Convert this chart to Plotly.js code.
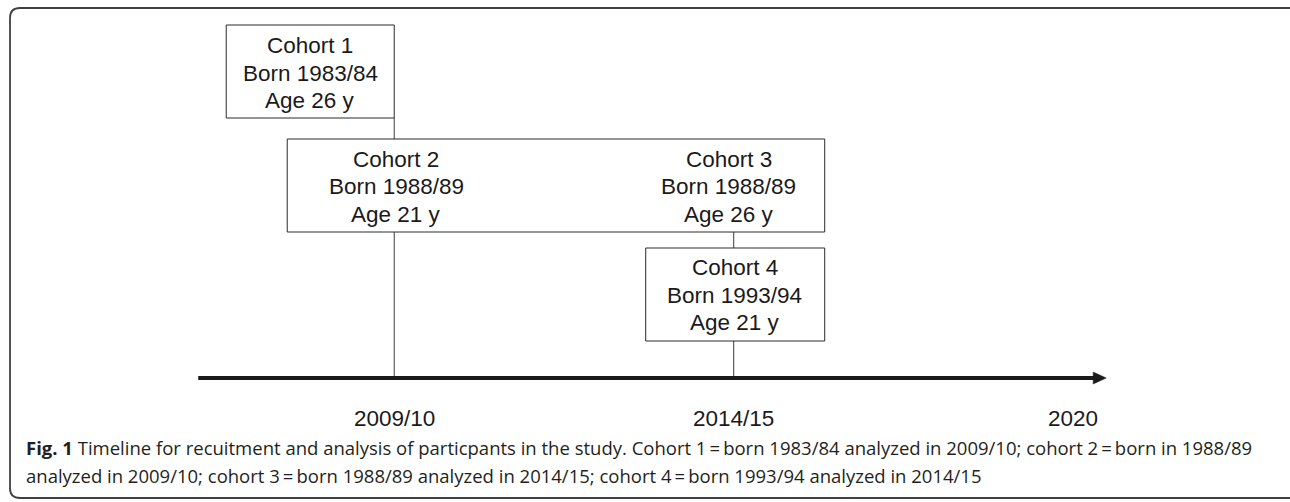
<!DOCTYPE html>
<html>
<head>
<meta charset="utf-8">
<script src="https://cdn.plot.ly/plotly-3.0.1.min.js"></script>
<style>
  html, body { margin: 0; padding: 0; background: #ffffff; }
  #chart { width: 1290px; height: 502px; }
</style>
</head>
<body>
<div id="chart"></div>
<script>
// ---- Data ----
const cohorts = ["Cohort 1", "Cohort 2", "Cohort 3", "Cohort 4"];
const bornYears = ["1983/84", "1988/89", "1988/89", "1993/94"];
const ages = [26, 21, 26, 21];
const analyzedIn = ["2009/10", "2009/10", "2014/15", "2014/15"];
const periods = ["2009/10", "2014/15", "2020"];
const periodYears = [2010, 2015, 2020];
const captionBold = "Fig. 1";
const captionLine1 = " Timeline for recuitment and analysis of particpants in the study. Cohort 1\u2009=\u2009born 1983/84 analyzed in 2009/10; cohort 2\u2009=\u2009born in 1988/89";
const captionLine2 = "analyzed in 2009/10; cohort 3\u2009=\u2009born 1988/89 analyzed in 2014/15; cohort 4\u2009=\u2009born 1993/94 analyzed in 2014/15";

// ---- Layout geometry (styling, not data) ----
const W = 1290, H = 502;
const xRange = [2004.194, 2023.193];
const pxPerYear = W / (xRange[1] - xRange[0]);
const xAt = (year, dpx) => year + dpx / pxPerYear;
const yearOf = label => periodYears[periods.indexOf(label)];

const boxFont = { family: "'Liberation Sans', Arial, sans-serif", size: 22.5, color: "#1a1a1a" };
const lineGap = 27.5;
// label placement per cohort: pixel shift from its period line, centre row (px from top)
const labelShift = [-84, 2, -5, 1];
const labelRow = [73, 186.5, 186.5, 295];

const annotations = [];
cohorts.forEach((c, i) => {
  const xc = xAt(yearOf(analyzedIn[i]), labelShift[i]);
  const lines = [c, "Born " + bornYears[i], "Age " + ages[i] + " y"];
  lines.forEach((t, k) => {
    annotations.push({
      x: xc, y: labelRow[i] + (k - 1) * lineGap, xref: "x", yref: "y",
      text: t, showarrow: false, xanchor: "center", yanchor: "middle",
      font: boxFont
    });
  });
});
periods.forEach((p, i) => {
  annotations.push({
    x: periodYears[i], y: 418, xref: "x", yref: "y",
    text: p, showarrow: false, xanchor: "center", yanchor: "middle",
    font: boxFont
  });
});
const capFont = { family: "'Open Sans', sans-serif", size: 18.5, color: "#231f20" };
annotations.push({
  x: 24 / W, y: 447, xref: "paper", yref: "y", xanchor: "left", yanchor: "middle",
  align: "left", showarrow: false, font: capFont,
  text: "<b>" + captionBold + "</b>" + captionLine1
});
annotations.push({
  x: 24 / W, y: 475, xref: "paper", yref: "y", xanchor: "left", yanchor: "middle",
  align: "left", showarrow: false, font: capFont,
  text: captionLine2
});

// frame path in paper-x / pixel-y
const px = v => (v / W).toFixed(5);
const frame = `M ${px(1310)},8 L ${px(20)},8 Q ${px(10)},8 ${px(10)},18 L ${px(10)},488 Q ${px(10)},498 ${px(20)},498 L ${px(1310)},498`;

const lineStyle = { color: "#3a3a3a", width: 1 };
const boxLine = { color: "#2a2a2a", width: 1 };
const y2010 = yearOf("2009/10"), y2015 = yearOf("2014/15"), y2020 = yearOf("2020");

const shapes = [
  { type: "path", xref: "paper", yref: "y", path: frame, line: { color: "#404040", width: 1.8 } },
  // period lines
  { type: "line", xref: "x", yref: "y", x0: y2010, x1: y2010, y0: 118, y1: 378, line: lineStyle },
  { type: "line", xref: "x", yref: "y", x0: y2015, x1: y2015, y0: 232, y1: 378, line: lineStyle },
  // boxes
  { type: "rect", xref: "x", yref: "y", x0: xAt(y2010, -168), x1: y2010, y0: 25, y1: 118, fillcolor: "#ffffff", line: boxLine },
  { type: "rect", xref: "x", yref: "y", x0: xAt(y2010, -107), x1: xAt(y2015, 91), y0: 139, y1: 232, fillcolor: "#ffffff", line: boxLine },
  { type: "rect", xref: "x", yref: "y", x0: xAt(y2015, -88), x1: xAt(y2015, 91), y0: 248, y1: 341, fillcolor: "#ffffff", line: boxLine },
  // timeline arrow
  { type: "line", xref: "x", yref: "y", x0: xAt(y2010, -196), x1: xAt(y2020, 22), y0: 378, y1: 378, line: { color: "#1a1a1a", width: 4 } },
  { type: "path", xref: "x", yref: "y",
    path: `M ${xAt(y2020, 20)},372 L ${xAt(y2020, 33)},378 L ${xAt(y2020, 20)},384 Z`,
    fillcolor: "#1a1a1a", line: { color: "#1a1a1a", width: 0.5 } }
];

const layout = {
  width: W, height: H,
  margin: { l: 0, r: 0, t: 0, b: 0, pad: 0 },
  paper_bgcolor: "#ffffff", plot_bgcolor: "#ffffff",
  showlegend: false,
  xaxis: { range: xRange, visible: false, fixedrange: true },
  yaxis: { range: [H, 0], visible: false, fixedrange: true },
  shapes: shapes,
  annotations: annotations
};

Plotly.newPlot("chart", [{ x: periodYears, y: [378, 378, 378], type: "scatter", mode: "markers", marker: { opacity: 0 }, hoverinfo: "skip" }], layout, { staticPlot: true, displayModeBar: false });
</script>
</body>
</html>
